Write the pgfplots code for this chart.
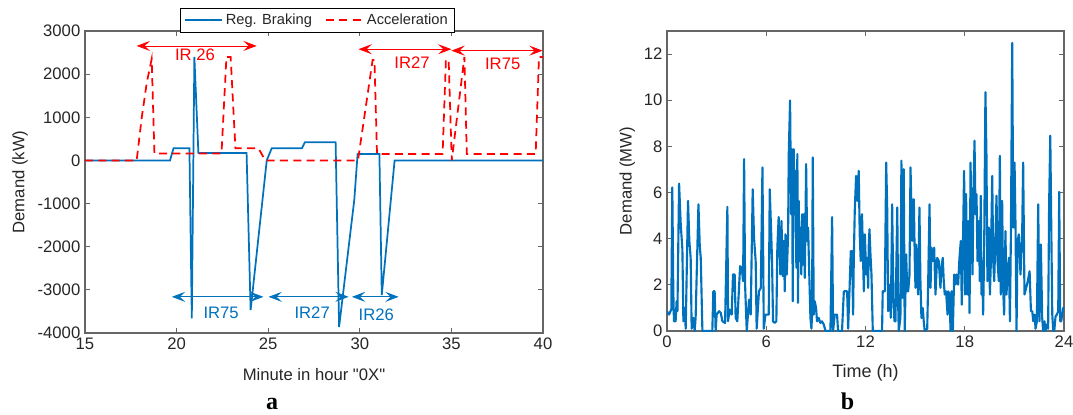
\documentclass[border=0pt]{standalone}
\usepackage{pgfplots}
\pgfplotsset{compat=1.18}
\usepackage{fontspec}
\setmainfont{Liberation Sans}[Ligatures=TeXOff]
\newfontfamily\capfont{Liberation Serif}
\usetikzlibrary{arrows.meta}

\definecolor{mblue}{RGB}{0,114,189}
\definecolor{axgray}{RGB}{38,38,38}

\pgfplotsset{
  mstyle/.style={
    scale only axis,
    axis line style={black!60, line width=0.8pt},
    every tick/.style={black!60, line width=0.8pt},
    major tick length=4pt,
    tick align=inside,
    tick label style={font=\fontsize{12.5}{15}\selectfont, text=axgray},
    label style={font=\fontsize{12.5}{15}\selectfont, text=axgray},
    /pgf/number format/assume math mode=true,
    /pgf/number format/1000 sep={},
    scaled ticks=false,
  }
}

\begin{document}
\begin{tikzpicture}[>={Stealth[length=10pt,width=7.5pt,inset=4pt]}]
\path[use as bounding box] (0,0) rectangle (804.75pt,310.5pt);

% (a) braking / acceleration demand
\begin{axis}[mstyle,
  at={(63.75pt,60.75pt)}, anchor=south west,
  width=343.5pt, height=226.5pt,
  xmin=15, xmax=40, ymin=-4000, ymax=3000,
  xtick={15,20,...,40}, ytick={-4000,-3000,...,3000},
  xlabel={Minute in hour "0X"}, ylabel={Demand (kW)},
  xlabel style={at={(axis description cs:0.5,-0.139)}, anchor=center},
  ylabel style={at={(axis description cs:-0.142,0.5)}, anchor=center},
  clip=false,
  legend style={at={(0.507,1)}, anchor=south, yshift=-1pt,
    legend columns=2, draw=black, line width=0.5pt,
    font=\fontsize{11}{13}\selectfont, text=axgray,
    /tikz/every even column/.append style={column sep=8pt}},
  legend image code/.code={\draw[#1] (0pt,0pt) -- (28pt,0pt);},
]
\addplot[mblue, line width=1.3pt] coordinates {
  (15,0) (19.64,0) (19.83,280) (20.70,280) (20.83,-3660) (20.97,2400)
  (21.19,170) (23.82,170) (24.04,-3470) (24.92,0) (25.19,280) (26.84,280)
  (27.00,420) (28.68,420) (28.87,-3860) (29.70,-910) (29.88,150) (31.07,150)
  (31.20,-3120) (31.90,0) (40,0)
};
\addlegendentry{Reg. Braking}
\addplot[red, line width=1.3pt, dash pattern=on 6pt off 4pt] coordinates {
  (15,0) (17.82,0) (18.10,1000) (18.37,1800) (18.64,2350) (18.79,160)
  (22.45,160) (22.72,2400) (22.95,2400) (23.21,280) (24.47,280) (24.84,0)
  (29.90,0) (30.70,2330) (30.80,2330) (30.94,150) (34.52,150) (34.70,2330)
  (34.85,2330) (35.02,0) (35.71,2400) (35.84,150) (39.60,150) (39.78,2400)
  (40,2400)
};
\addlegendentry{Acceleration}

\draw[red, line width=0.6pt, <->] (axis cs:17.82,2654) -- (axis cs:24.37,2654);
\draw[red, line width=0.6pt, <->] (axis cs:29.93,2578) -- (axis cs:35.0,2578);
\draw[red, line width=0.6pt, <->] (axis cs:35.0,2545) -- (axis cs:39.98,2545);
\node[red, font=\fontsize{12.5}{15}\selectfont] at (axis cs:21.0,2445) {IR 26};
\node[red, font=\fontsize{12.5}{15}\selectfont] at (axis cs:32.85,2275) {IR27};
\node[red, font=\fontsize{12.5}{15}\selectfont] at (axis cs:37.8,2250) {IR75};

\draw[mblue, line width=0.6pt, <->] (axis cs:19.74,-3162) -- (axis cs:24.74,-3162);
\draw[mblue, line width=0.6pt, <->] (axis cs:25.02,-3162) -- (axis cs:29.39,-3162);
\draw[mblue, line width=0.6pt, <->] (axis cs:29.57,-3162) -- (axis cs:32.12,-3162);
\node[mblue, font=\fontsize{12.5}{15}\selectfont] at (axis cs:22.43,-3525) {IR75};
\node[mblue, font=\fontsize{12.5}{15}\selectfont] at (axis cs:27.4,-3530) {IR27};
\node[mblue, font=\fontsize{12.5}{15}\selectfont] at (axis cs:30.9,-3580) {IR26};
\end{axis}

% (b) daily demand
\begin{axis}[mstyle,
  at={(500.25pt,62.25pt)}, anchor=south west,
  width=297.75pt, height=225pt,
  xmin=0, xmax=24, ymin=0, ymax=13,
  xtick={0,6,...,24}, ytick={0,2,...,12},
  xlabel={Time (h)}, ylabel={Demand (MW)},
  xlabel style={at={(axis description cs:0.5,-0.14)}, anchor=center,
    font=\fontsize{13.5}{16}\selectfont},
  ylabel style={at={(axis description cs:-0.1,0.5)}, anchor=center},
]
\addplot[mblue, line width=1.6pt, line join=round] coordinates {
(0.00,0.86) (0.12,0.71) (0.26,0.93) (0.32,6.22) (0.38,1.72) (0.42,0.42)
(0.52,0.42) (0.58,1.29) (0.63,0.86) (0.73,6.39) (0.83,4.62) (0.93,3.54)
(0.99,0.42) (1.07,1.00) (1.13,0.10) (1.27,5.64) (1.35,3.90) (1.43,3.17)
(1.49,0.10) (1.59,0.57) (1.67,0) (1.73,0.57) (1.90,5.49) (1.98,3.68)
(2.04,3.17) (2.14,0) (2.74,0) (2.80,1.72) (2.88,1.72) (2.94,0)
(3.00,0.71) (3.15,0.86) (3.25,0.78) (3.35,0.42) (3.51,0.35) (3.65,5.38)
(3.69,0.42) (3.79,0.93) (3.91,0.71) (3.99,2.45) (4.09,2.45) (4.15,0.57)
(4.25,0.42) (4.42,2.81) (4.52,2.74) (4.60,2.16) (4.66,7.45) (4.72,2.01)
(4.82,0) (4.96,1.36) (5.06,0.71) (5.18,6.14) (5.26,4.04) (5.36,3.03)
(5.42,0.10) (5.56,1.72) (5.67,1.87) (5.77,7.09) (5.85,0.10) (5.95,0.71)
(6.15,0.71) (6.21,6.14) (6.29,4.41) (6.35,3.03) (6.41,0.42) (6.51,0.35)
(6.61,0.42) (6.67,3.61) (6.75,4.94) (6.85,2.45) (6.92,4.77) (7.00,2.38)
(7.06,3.90) (7.12,1.72) (7.16,4.19) (7.24,2.45) (7.32,4.19) (7.36,7.67)
(7.44,9.99) (7.50,5.06) (7.56,7.88) (7.60,1.29) (7.66,7.88) (7.72,5.06)
(7.76,6.94) (7.82,2.74) (7.88,7.67) (7.92,1.22) (7.96,5.64) (8.02,3.03)
(8.06,4.48) (8.12,2.45) (8.17,5.06) (8.23,2.88) (8.27,5.06) (8.33,2.30)
(8.41,7.23) (8.47,3.90) (8.53,4.48) (8.59,2.74) (8.67,0.57) (8.73,0.10)
(8.77,0.71) (8.81,7.52) (8.87,0.71) (8.93,1.29) (9.01,1.00) (9.07,0.42)
(9.17,0.57) (9.27,0.35) (9.37,0.42) (9.48,0.28) (9.58,0) (9.88,0)
(9.98,4.94) (10.04,0) (10.14,0.71) (10.28,0.71) (10.34,0) (10.58,0)
(10.69,1.72) (10.89,1.72) (10.95,0.10) (11.03,1.72) (11.11,3.46) (11.19,3.46)
(11.25,0.71) (11.29,3.03) (11.35,5.20) (11.43,6.72) (11.51,5.64) (11.59,6.94)
(11.65,4.19) (11.71,3.03) (11.79,5.06) (11.85,3.17) (11.90,1.72) (11.96,4.19)
(12.04,2.45) (12.10,3.17) (12.16,1.87) (12.20,3.75) (12.24,4.41) (12.30,3.32)
(12.36,2.45) (12.44,0) (13.00,0) (13.04,1.72) (13.17,1.72) (13.25,7.30)
(13.31,5.35) (13.37,0.86) (13.45,2.01) (13.53,0.57) (13.61,5.49) (13.69,1.29)
(13.75,0.42) (13.81,0.42) (13.92,5.35) (13.97,1.29) (14.01,0) (14.11,0.57)
(14.17,7.38) (14.23,1.43) (14.31,7.01) (14.37,0) (14.46,3.32) (14.52,1.72)
(14.58,1.72) (14.66,2.45) (14.72,7.09) (14.82,3.90) (14.92,5.71) (14.98,3.03)
(15.02,1.87) (15.06,3.75) (15.12,2.74) (15.18,1.58) (15.26,5.35) (15.32,2.16)
(15.38,0.57) (15.46,1.00) (15.52,0.42) (15.58,0) (15.73,0.10) (15.79,2.16)
(15.87,5.49) (15.93,1.87) (15.99,3.61) (16.07,3.03) (16.15,3.61) (16.23,1.58)
(16.33,3.17) (16.43,3.03) (16.53,1.87) (16.59,2.74) (16.67,3.17) (16.73,2.16)
(16.79,1.58) (16.87,1.72) (16.96,0.71) (17.00,1.72) (17.08,1.58) (17.14,0)
(17.20,1.72) (17.28,0) (17.36,2.45) (17.44,2.01) (17.50,2.45) (17.60,2.01)
(17.68,3.17) (17.76,3.90) (17.82,1.14) (17.90,4.19) (17.96,6.94) (18.02,1.58)
(18.08,5.93) (18.15,1.58) (18.21,4.77) (18.29,0.78) (18.35,7.30) (18.41,4.48)
(18.47,2.45) (18.53,6.14) (18.59,8.25) (18.65,5.06) (18.71,5.93) (18.77,3.03)
(18.85,4.77) (18.91,2.16) (18.97,5.86) (19.01,1.58) (19.05,3.03) (19.11,0.71)
(19.17,3.32) (19.25,10.35) (19.31,7.67) (19.37,2.16) (19.46,4.48) (19.52,1.58)
(19.58,3.03) (19.66,6.72) (19.72,3.03) (19.78,2.16) (19.86,4.19) (19.92,5.86)
(19.98,3.03) (20.06,2.16) (20.12,7.59) (20.18,1.58) (20.26,5.64) (20.32,1.87)
(20.38,0.71) (20.46,4.33) (20.52,1.58) (20.58,2.30) (20.67,3.17) (20.73,0.42)
(20.79,4.19) (20.87,12.48) (20.93,4.48) (21.01,7.30) (21.07,4.48) (21.13,0)
(21.19,3.90) (21.27,4.19) (21.37,2.45) (21.47,4.19) (21.53,7.30) (21.61,1.58)
(21.71,1.87) (21.81,2.16) (21.92,2.59) (22.00,0.86) (22.08,0.86) (22.14,0.42)
(22.22,0.71) (22.28,0.10) (22.36,0.42) (22.44,5.49) (22.52,0.42) (22.60,3.75)
(22.68,0.57) (22.74,0) (22.82,0.42) (22.88,0) (22.96,0.28) (23.04,0.10)
(23.10,5.49) (23.17,8.46) (23.23,4.48) (23.29,0.71) (23.35,0) (23.41,0)
(23.49,0.64) (23.57,0.71) (23.65,0.86) (23.71,6.03) (23.77,0.42) (23.83,0.42)
(23.89,0.71) (23.95,1.00) (24.00,0.90)
};
\end{axis}

\node[font=\capfont\bfseries\fontsize{18}{20}\selectfont, anchor=base] at (204pt,3.75pt) {a};
\node[font=\capfont\bfseries\fontsize{18}{20}\selectfont, anchor=base] at (635.6pt,3.75pt) {b};
\end{tikzpicture}
\end{document}
